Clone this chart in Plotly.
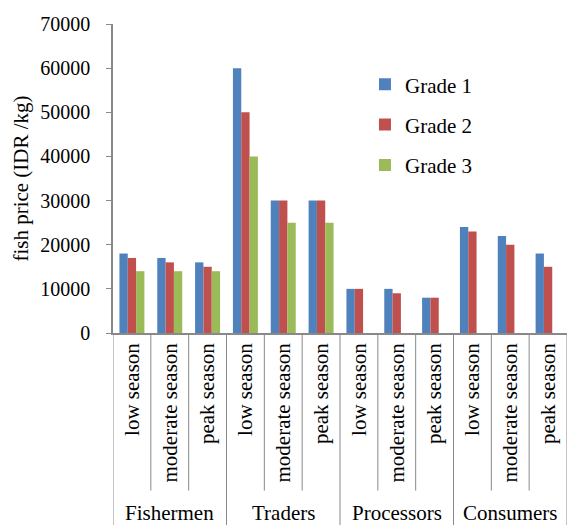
import plotly.graph_objects as go

# Market actors (outer groups) and seasons (inner categories)
actors = ["Fishermen", "Traders", "Processors", "Consumers"]
seasons = ["low season", "moderate season", "peak season"]

# Fish price (IDR/kg) per actor x season, in order of actors then seasons
grade1 = [18000, 17000, 16000, 60000, 30000, 30000, 10000, 10000, 8000, 24000, 22000, 18000]
grade2 = [17000, 16000, 15000, 50000, 30000, 30000, 10000, 9000, 8000, 23000, 20000, 15000]
grade3 = [14000, 14000, 14000, 40000, 25000, 25000, None, None, None, None, None, None]

series_names = ["Grade 1", "Grade 2", "Grade 3"]
series_colors = ["#4F81BD", "#C0504D", "#9BBB59"]

y_ticks = [0, 10000, 20000, 30000, 40000, 50000, 60000, 70000]

FONT = "Liberation Serif"
GRID = "#898989"

n_cat = len(actors) * len(seasons)
pos = list(range(n_cat))
season_labels = [s for _ in actors for s in seasons]

fig = go.Figure()
for name, vals, col in zip(series_names, [grade1, grade2, grade3], series_colors):
    fig.add_trace(go.Bar(
        x=pos, y=vals, name=name, legendgroup=name,
        marker=dict(color=col, line=dict(width=0)),
    ))

# Divider lines below the axis: short ones between seasons, long ones between actors
shapes = []
for b in range(n_cat + 1):
    boundary = b - 0.5
    is_group = b % len(seasons) == 0
    shapes.append(dict(
        type="line", xref="x", yref="paper",
        x0=boundary, x1=boundary, y0=0, y1=-0.625 if is_group else -0.51,
        line=dict(color=GRID, width=1),
    ))

annotations = []
for gi, actor in enumerate(actors):
    center = gi * len(seasons) + (len(seasons) - 1) / 2
    annotations.append(dict(
        x=center, xref="x", y=-0.583, yref="paper",
        text=actor, showarrow=False, xanchor="center", yanchor="middle",
        font=dict(family=FONT, size=21, color="#000000"),
    ))

fig.update_layout(
    width=567, height=525,
    margin=dict(l=113, r=0, t=24, b=192),
    paper_bgcolor="white", plot_bgcolor="white",
    barmode="group", bargap=0.34, bargroupgap=0,
    font=dict(family=FONT, size=21, color="#000000"),
    shapes=shapes, annotations=annotations,
    legend=dict(
        x=0.555, y=0.87, xanchor="left", yanchor="top",
        bgcolor="rgba(0,0,0,0)", borderwidth=0,
        font=dict(family=FONT, size=21, color="#000000"),
        tracegroupgap=10,
    ),
    showlegend=True,
)

fig.update_xaxes(
    range=[-0.5, n_cat - 0.5],
    tickmode="array", tickvals=pos, ticktext=season_labels,
    tickangle=-90, ticks="", showgrid=False, zeroline=False,
    showline=True, linecolor=GRID, linewidth=1.5,
    tickfont=dict(family=FONT, size=21, color="#000000"),
)
fig.update_yaxes(
    range=[0, 70000],
    tickmode="array", tickvals=y_ticks, ticktext=[str(v) for v in y_ticks],
    ticks="outside", ticklen=5, tickcolor=GRID, tickwidth=1,
    showgrid=False, zeroline=False,
    showline=True, linecolor=GRID, linewidth=1.5,
    tickfont=dict(family=FONT, size=20, color="#000000"),
    ticklabelstandoff=12,
    title=dict(text="fish price (IDR /kg)", font=dict(family=FONT, size=21, color="#000000"), standoff=6),
)

fig.write_html("out.html")
